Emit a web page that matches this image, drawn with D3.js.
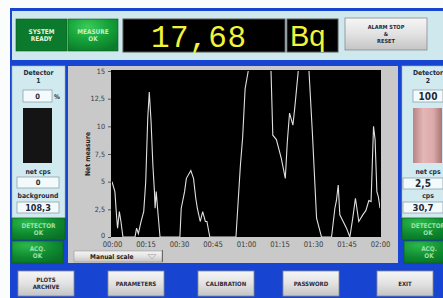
<!DOCTYPE html>
<html>
<head>
<meta charset="utf-8">
<script src="https://cdn.jsdelivr.net/npm/d3@7"></script>
<style>
  html,body{margin:0;padding:0;background:#fbfdfd;}
  svg{display:block;font-family:"DejaVu Sans Condensed","DejaVu Sans",sans-serif;}
</style>
</head>
<body>
<svg id="panel" width="443" height="298"></svg>
<script>
// series: minutes since start vs net measure
var minutes=[0,1.3,2,2.5,3.3,4,4.9,10.3,11,11.8,13,14.2,15.1,16,16.7,17.5,18.3,19,19.3,19.8,20.4,21.5,
  30.4,31,32.5,33.3,35.3,36.5,37.5,38.2,39.5,40.6,41.8,42.5,43.8,55.5,57.5,58.5,59.6,61,66,71.2,
  72,73.6,75.8,77.6,78.5,79.5,81,81.8,83.4,86,88.2,89.7,91.6,93.8,98.3,99.8,100.5,101.3,102,103.5,
  105,106.5,107.8,109,110.5,112.3,113.7,115,116,117.1,117.8,118.6,119.3,120];
var netMeasure=[5,4.1,2,0.8,2.3,1.4,0,0,0.8,0.3,1.4,2.3,5,10.7,13.1,10.4,6.5,4.1,2.6,4.1,2.6,0,
  0,2.6,4.1,5.3,6,5.3,3.5,2.6,1.4,2.3,1.4,1.4,0,0,6.5,9,13.4,15,19,15,
  9.2,8.8,7.1,5.3,8.6,11.2,10.1,11.6,15,18,15,9.5,1.7,0,0,2.6,3.3,4.7,2,1.4,
  0.8,0,1.7,3.5,1.4,2,2.4,3.3,3.2,10,8.8,4.1,3.6,2.6];
var yTicks=[0,2.5,5,7.5,10,12.5,15];
var xTicks=[0,15,30,45,60,75,90,105,120];
var xTickLabels=['00:00','00:15','00:30','00:45','01:00','01:15','01:30','01:45','02:00'];
var bottomButtons=[['PLOTS','ARCHIVE'],['PARAMETERS'],['CALIBRATION'],['PASSWORD'],['EXIT']];
var buttonLeft=[18,108,198,283,377];
var reading='17,68';
var unit='Bq';
var det1={name:['Detector','1'],pct:'0',net:'0',lbl2:'background',val2:'108,3'};
var det2={name:['Detector','2'],pct:'100',net:'2,5',lbl2:'cps',val2:'30,7'};

var svg=d3.select('#panel');
var defs=svg.append('defs');

function grad(id,stops,vertical){
  var g=defs.append('linearGradient').attr('id',id)
    .attr('x1',0).attr('y1',0).attr('x2',vertical?0:1).attr('y2',vertical?1:0);
  stops.forEach(function(s){g.append('stop').attr('offset',s[0]).attr('stop-color',s[1]);});
}
grad('btn',[[0,'#f6f6f6'],[0.5,'#e2e2e2'],[1,'#c4c4c4']],true);
grad('pink',[[0,'#b88484'],[0.35,'#e4b6b6'],[0.7,'#dcaaaa'],[1,'#a87474']],false);
var rg=defs.append('radialGradient').attr('id','glow').attr('cx','0.4').attr('cy','0.25').attr('r','0.8');
rg.append('stop').attr('offset',0).attr('stop-color','#3ccc5a');
rg.append('stop').attr('offset',0.5).attr('stop-color','#16a43a');
rg.append('stop').attr('offset',1).attr('stop-color','#0b7c2a');
var rg2=defs.append('radialGradient').attr('id','glow2').attr('cx','0.3').attr('cy','0.2').attr('r','0.9');
rg2.append('stop').attr('offset',0).attr('stop-color','#2cb84a');
rg2.append('stop').attr('offset',0.6).attr('stop-color','#0e8a30');
rg2.append('stop').attr('offset',1).attr('stop-color','#097026');

// frame
svg.append('rect').attr('x',10).attr('y',8).attr('width',433).attr('height',290).attr('fill','#1844d2');
svg.append('rect').attr('x',12).attr('y',11).attr('width',431).attr('height',49).attr('fill','#cfe8ee');

// top row
function greenBox(x,y,w,h,lines,fill,col){
  svg.append('rect').attr('x',x).attr('y',y).attr('width',w).attr('height',h)
    .attr('fill',fill).attr('stroke','#0a5a20').attr('stroke-width',0.6);
  var t=svg.append('text').attr('x',x+w/2).attr('y',y+h/2-(lines.length-1)*3.6+2.3)
    .attr('text-anchor','middle').attr('font-size',6.4).attr('font-weight','bold').attr('fill',col);
  lines.forEach(function(l,i){t.append('tspan').attr('x',x+w/2).attr('dy',i?7.2:0).text(l);});
}
function greyButton(x,y,w,h,lines,fs){
  svg.append('rect').attr('x',x).attr('y',y).attr('width',w).attr('height',h)
    .attr('fill','url(#btn)').attr('stroke','#8a8a8a').attr('stroke-width',0.8);
  var t=svg.append('text').attr('x',x+w/2).attr('y',y+h/2-(lines.length-1)*(fs*0.6)+fs*0.36)
    .attr('text-anchor','middle').attr('font-size',fs).attr('font-weight','bold').attr('fill','#2a2a3a');
  lines.forEach(function(l,i){t.append('tspan').attr('x',x+w/2).attr('dy',i?fs*1.2:0).text(l);});
}
greenBox(16,19,51,32,['SYSTEM','READY'],'#0c7a2c','#e2f8e2');
greenBox(68,19,50,32,['MEASURE','OK'],'url(#glow)','#c4efc4');

svg.append('rect').attr('x',123).attr('y',19).attr('width',162).attr('height',33).attr('fill','#000')
  .attr('stroke','#555').attr('stroke-width',1);
svg.append('text').attr('x',151).attr('y',46.5).attr('font-family','"Liberation Mono","DejaVu Sans Mono",monospace')
  .attr('font-size',31).attr('fill','#f2f43a').attr('letter-spacing',0.5).text(reading);
svg.append('rect').attr('x',287).attr('y',19).attr('width',51).attr('height',33).attr('fill','#000')
  .attr('stroke','#555').attr('stroke-width',1);
svg.append('text').attr('x',290).attr('y',46).attr('font-family','"Liberation Sans",Arial,sans-serif')
  .attr('font-size',29).attr('fill','#f2f43a').text(unit);
greyButton(345,18,82,32,['ALARM STOP','&','RESET'],5.6);

// detector panels
function detector(x,w,d){
  var cx=x+w/2;
  svg.append('rect').attr('x',x).attr('y',66).attr('width',w).attr('height',152).attr('fill','#d0eaf0')
    .attr('stroke','#9cb6bf').attr('stroke-width',0.6);
  svg.append('text').attr('x',cx).attr('y',75).attr('text-anchor','middle').attr('font-size',6.8)
    .attr('font-weight','bold').attr('fill','#1e2a3a').text(d.name[0]);
  svg.append('text').attr('x',cx).attr('y',83).attr('text-anchor','middle').attr('font-size',6.8)
    .attr('font-weight','bold').attr('fill','#1e2a3a').text(d.name[1]);
  return cx;
}
function field(x,y,w,h,val,fs){
  svg.append('rect').attr('x',x).attr('y',y).attr('width',w).attr('height',h).attr('fill','#f2fafc')
    .attr('stroke','#8fa4ab').attr('stroke-width',0.8);
  svg.append('text').attr('x',x+w/2).attr('y',y+h/2+fs*0.36).attr('text-anchor','middle')
    .attr('font-size',fs).attr('font-weight','bold').attr('fill','#1e2a3a').text(val);
}
function label(x,y,t){
  svg.append('text').attr('x',x).attr('y',y).attr('text-anchor','middle').attr('font-size',6.8)
    .attr('font-weight','bold').attr('fill','#1e2a3a').text(t);
}
detector(12,53,det1);
field(23,90,29,12,det1.pct,7.5);
svg.append('text').attr('x',54).attr('y',99).attr('font-size',6.5).attr('font-weight','bold').attr('fill','#1e2a3a').text('%');
svg.append('rect').attr('x',23).attr('y',108).attr('width',29).attr('height',55).attr('fill','#141414');
label(38,174,'net cps');
field(17,177,42,11,det1.net,7.5);
label(38,198,det1.lbl2);
field(17,202,42,11,det1.val2,9);
greenBox(12,218,53,22,['DETECTOR','OK'],'url(#glow2)','#9fe0a8');
greenBox(12,241,51,22,['ACQ.','OK'],'url(#glow2)','#9fe0a8');

detector(402,52,det2);
field(413,90,30,12,det2.pct,10);
svg.append('rect').attr('x',413).attr('y',108).attr('width',29).attr('height',55).attr('fill','url(#pink)');
label(428,174,'net cps');
field(403,178,40,11,det2.net,10);
label(428,198,det2.lbl2);
field(403,202,40,11,det2.val2,9.5);
greenBox(402,218,52,22,['DETECTOR','OK'],'url(#glow2)','#9fe0a8');
greenBox(404,241,50,22,['ACQ.','OK'],'url(#glow2)','#9fe0a8');

// chart panel
svg.append('rect').attr('x',68).attr('y',66).attr('width',330).attr('height',197).attr('fill','#c9c9c9');

var x=d3.scaleLinear().domain([0,120]).range([112,380]);
var y=d3.scaleLinear().domain([0,15]).range([237,71]);

svg.append('rect').attr('x',x(0)-1).attr('y',y(15)-1).attr('width',x(120)-x(0)+2).attr('height',y(0)-y(15)+1)
  .attr('fill','#000');
defs.append('clipPath').attr('id','plotclip').append('rect')
  .attr('x',x(0)).attr('y',y(15)).attr('width',x(120)-x(0)).attr('height',y(0)-y(15));

var yAxis=svg.append('g').attr('transform','translate('+(x(0)-1)+',0)')
  .call(d3.axisLeft(y).tickValues(yTicks).tickSize(3).tickFormat(function(d){return String(d).replace('.',',');}));
var xAxis=svg.append('g').attr('transform','translate(0,'+(y(0)+1)+')')
  .call(d3.axisBottom(x).tickValues(xTicks).tickSize(0).tickPadding(4).tickFormat(function(d,i){return xTickLabels[i];}));
[yAxis,xAxis].forEach(function(a){
  a.select('.domain').remove();
  a.selectAll('line').attr('stroke','#555');
  a.selectAll('text').attr('fill','#3a3a3a').attr('font-size',7.2)
    .attr('font-family','"DejaVu Sans Condensed","DejaVu Sans",sans-serif');
});
xAxis.selectAll('text').attr('font-size',7.6);
yAxis.selectAll('.tick text').filter(function(d){return d===0;}).attr('dy','0.1em');

svg.append('text').attr('transform','translate(90,'+y(7.5)+') rotate(-90)').attr('text-anchor','middle')
  .attr('font-size',6.8).attr('font-weight','bold').attr('fill','#222').text('Net measure');

var line=d3.line().x(function(d,i){return x(minutes[i]);}).y(function(d){return y(d);});
svg.append('path').datum(netMeasure).attr('clip-path','url(#plotclip)').attr('d',line)
  .attr('fill','none').attr('stroke','#e0e0e0').attr('stroke-width',1.1);

// scale selector
svg.append('rect').attr('x',74).attr('y',251).attr('width',88).attr('height',11).attr('fill','url(#btn)')
  .attr('stroke','#9a9a9a').attr('stroke-width',0.6);
svg.append('line').attr('x1',162.5).attr('x2',162.5).attr('y1',250).attr('y2',262).attr('stroke','#666');
svg.append('text').attr('x',90).attr('y',259).attr('font-size',6.6).attr('font-weight','bold').attr('fill','#222').text('Manual scale');
svg.append('path').attr('d','M148,254.5 L156,254.5 L152,259 Z').attr('fill','none').attr('stroke','#aaa').attr('stroke-width',0.7);

// bottom buttons
bottomButtons.forEach(function(b,i){
  greyButton(buttonLeft[i],271,56,25,b,6);
});
</script>
</body>
</html>
